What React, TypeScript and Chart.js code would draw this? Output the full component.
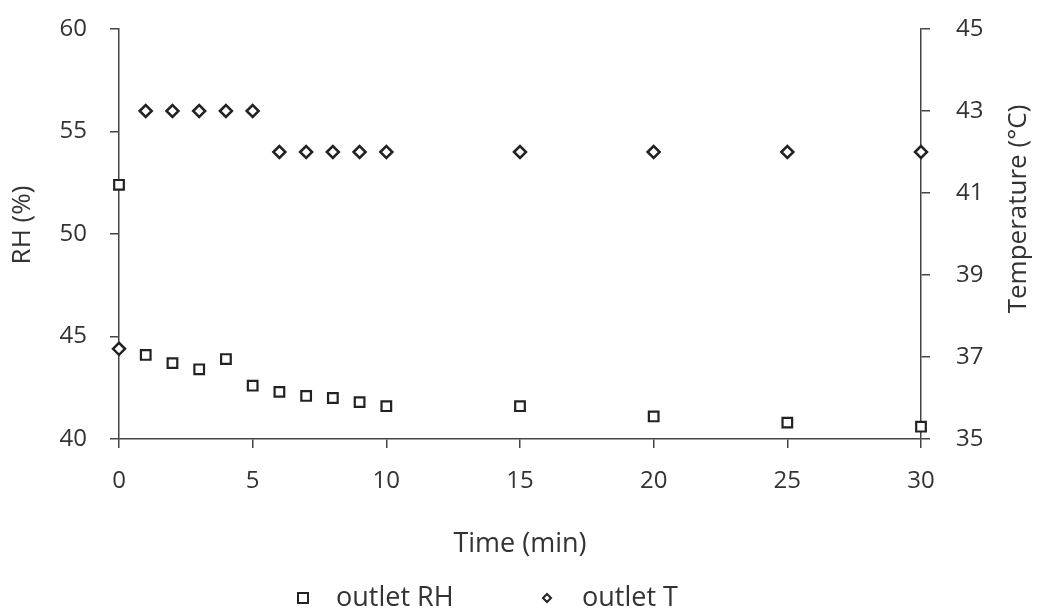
import React, { useEffect, useRef } from "react";
import { Chart, registerables } from "chart.js";

Chart.register(...registerables);

// ---- data ----
const timeMin = [0, 1, 2, 3, 4, 5, 6, 7, 8, 9, 10, 15, 20, 25, 30];
const outletRH = [52.4, 44.1, 43.7, 43.4, 43.9, 42.6, 42.3, 42.1, 42.0, 41.8, 41.6, 41.6, 41.1, 40.8, 40.6];
const outletT = [37.2, 43.0, 43.0, 43.0, 43.0, 43.0, 42.0, 42.0, 42.0, 42.0, 42.0, 42.0, 42.0, 42.0, 42.0];

const xTicks = [0, 5, 10, 15, 20, 25, 30];
const rhTicks = [40, 45, 50, 55, 60];
const tempTicks = [35, 37, 39, 41, 43, 45];

const seriesRH = "outlet RH";
const seriesT = "outlet T";
const xTitle = "Time (min)";
const rhTitle = "RH (%)";
const tempTitle = "Temperature (°C)";

// ---- styles ----
const FONT = '"Open Sans", "DejaVu Sans", sans-serif';
const TEXT = "#333333";
const AXIS = "#444444";
const MARK = "#222222";

const W = 1040;
const H = 611;

const overlayPlugin = {
  id: "overlayTitlesLegend",
  afterDraw(chart: any) {
    const ctx: CanvasRenderingContext2D = chart.ctx;
    ctx.save();
    ctx.fillStyle = TEXT;
    ctx.textAlign = "center";
    ctx.textBaseline = "middle";
    ctx.font = `26px ${FONT}`;
    // left axis title
    ctx.save();
    ctx.translate(23, 225);
    ctx.rotate(-Math.PI / 2);
    ctx.fillText(rhTitle, 0, 0);
    ctx.restore();
    // right axis title (reads bottom to top)
    ctx.save();
    ctx.translate(1019, 209);
    ctx.rotate(-Math.PI / 2);
    ctx.fillText(tempTitle, 0, 0);
    ctx.restore();

    // legend
    const ly = 598;
    ctx.font = `27px ${FONT}`;
    ctx.textAlign = "left";
    const dsRH = chart.data.datasets[0];
    const dsT = chart.data.datasets[1];
    // square marker
    ctx.lineWidth = 2;
    ctx.strokeStyle = dsRH.borderColor;
    ctx.fillStyle = "#ffffff";
    ctx.beginPath();
    ctx.rect(298, ly - 5, 10, 10);
    ctx.fill();
    ctx.stroke();
    ctx.fillStyle = TEXT;
    ctx.fillText(dsRH.label, 336, ly);
    // diamond marker
    ctx.strokeStyle = dsT.borderColor;
    ctx.fillStyle = "#ffffff";
    ctx.lineWidth = 2;
    ctx.beginPath();
    ctx.moveTo(547, ly - 4);
    ctx.lineTo(551, ly);
    ctx.lineTo(547, ly + 4);
    ctx.lineTo(543, ly);
    ctx.closePath();
    ctx.fill();
    ctx.stroke();
    ctx.fillStyle = TEXT;
    ctx.fillText(dsT.label, 582, ly);
    ctx.restore();
  },
};

export default function App() {
  const canvasRef = useRef<HTMLCanvasElement | null>(null);

  useEffect(() => {
    const canvas = canvasRef.current;
    if (!canvas) return;
    const chart = new Chart(canvas, {
      type: "scatter",
      data: {
        datasets: [
          {
            label: seriesRH,
            data: timeMin.map((t, i) => ({ x: t, y: outletRH[i] })),
            yAxisID: "yRH",
            pointStyle: "rect",
            pointRadius: 6.8,
            pointBorderWidth: 2.2,
            borderColor: MARK,
            backgroundColor: "#ffffff",
            showLine: false,
            clip: false as any,
          },
          {
            label: seriesT,
            data: timeMin.map((t, i) => ({ x: t, y: outletT[i] })),
            yAxisID: "yT",
            pointStyle: "rectRot",
            pointRadius: 6,
            pointBorderWidth: 2.5,
            borderColor: MARK,
            backgroundColor: "#ffffff",
            showLine: false,
            clip: false as any,
          },
        ],
      },
      options: {
        responsive: false,
        animation: false,
        devicePixelRatio: 1,
        layout: { padding: { top: 29, bottom: 50, left: 0, right: 0 } },
        plugins: {
          legend: { display: false },
          tooltip: { enabled: false },
          title: { display: false },
        },
        scales: {
          x: {
            type: "linear",
            position: "bottom",
            min: 0,
            max: 30,
            afterBuildTicks: (s: any) => {
              s.ticks = xTicks.map((v) => ({ value: v }));
            },
            afterFit: (s: any) => {
              s.height = 122;
              s.paddingLeft = 0;
              s.paddingRight = 0;
            },
            ticks: {
              font: { family: FONT, size: 24 },
              color: TEXT,
              padding: 19,
              maxRotation: 0,
            },
            grid: {
              display: true,
              drawOnChartArea: false,
              drawTicks: true,
              tickLength: 9,
              color: AXIS,
              lineWidth: 1.5,
            },
            border: { display: true, color: AXIS, width: 1.5 },
            title: {
              display: true,
              text: xTitle,
              color: TEXT,
              font: { family: FONT, size: 27 },
              padding: { top: 0, bottom: 0 },
            },
          },
          yRH: {
            type: "linear",
            position: "left",
            min: 40,
            max: 60,
            afterBuildTicks: (s: any) => {
              s.ticks = rhTicks.map((v) => ({ value: v }));
            },
            afterFit: (s: any) => {
              s.width = 119;
              s.paddingTop = 0;
              s.paddingBottom = 0;
            },
            ticks: {
              font: { family: FONT, size: 24 },
              color: TEXT,
              padding: 23,
            },
            grid: {
              display: true,
              drawOnChartArea: false,
              drawTicks: true,
              tickLength: 9,
              color: AXIS,
              lineWidth: 1.5,
            },
            border: { display: true, color: AXIS, width: 1.5 },
            title: { display: false, text: rhTitle },
          },
          yT: {
            type: "linear",
            position: "right",
            min: 35,
            max: 45,
            afterBuildTicks: (s: any) => {
              s.ticks = tempTicks.map((v) => ({ value: v }));
            },
            afterFit: (s: any) => {
              s.width = 119;
              s.paddingTop = 0;
              s.paddingBottom = 0;
            },
            ticks: {
              font: { family: FONT, size: 24 },
              color: TEXT,
              padding: 26,
            },
            grid: {
              display: true,
              drawOnChartArea: false,
              drawTicks: true,
              tickLength: 9,
              color: AXIS,
              lineWidth: 1.5,
            },
            border: { display: true, color: AXIS, width: 1.5 },
            title: { display: false, text: tempTitle },
          },
        },
      } as any,
      plugins: [overlayPlugin],
    });
    return () => chart.destroy();
  }, []);

  return (
    <div
      style={{
        position: "absolute",
        left: 0,
        top: 0,
        width: W,
        height: H,
        background: "#ffffff",
      }}
    >
      <canvas ref={canvasRef} width={W} height={H} style={{ width: W, height: H, display: "block" }} />
    </div>
  );
}
